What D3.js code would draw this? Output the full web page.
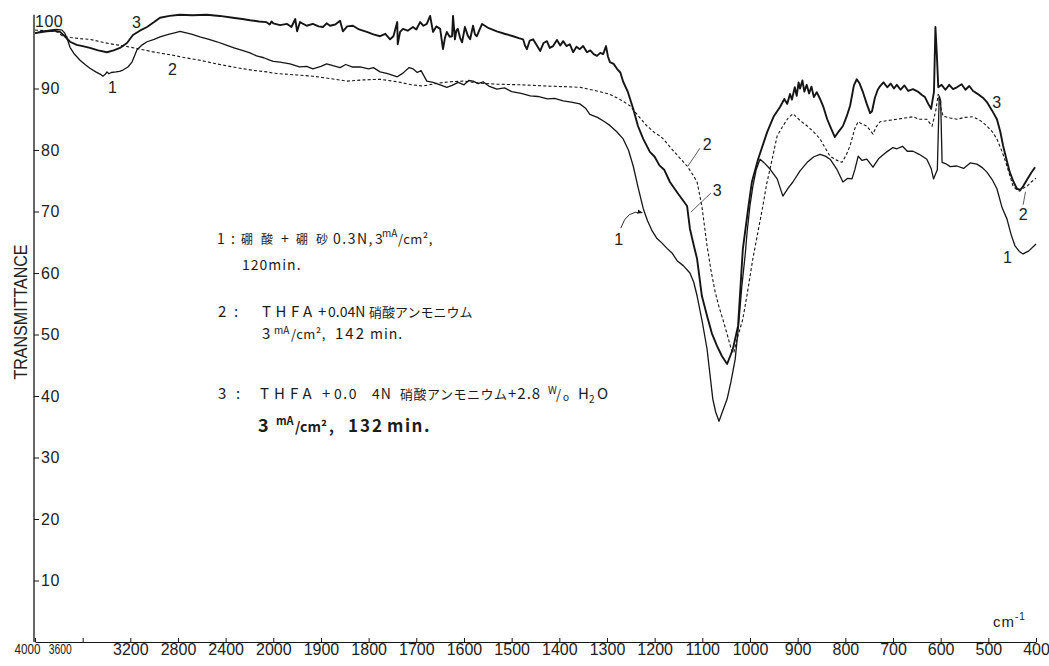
<!DOCTYPE html>
<html>
<head>
<meta charset="utf-8">
<script src="https://cdn.jsdelivr.net/npm/d3@7"></script>
<style>
  body { margin: 0; background: #fff; }
  svg { display: block; }
</style>
</head>
<body>
<script>
const width = 1049;
const height = 666;

// wavenumber (cm-1) / transmittance (%)
const spectrum1 = [
  [4000,99.0],[3940,99.3],[3874,99.5],[3820,99.6],[3773,99.5],[3750,99.0],[3732,98.2],[3706,96.7],[3670,95.6],[3622,94.6],
  [3580,93.9],[3539,93.3],[3490,92.7],[3450,92.3],[3430,92.0],[3410,92.3],[3396,92.7],[3380,92.4],[3360,92.6],[3320,92.7],
  [3290,92.8],[3262,93.0],[3220,93.5],[3186,94.3],[3165,95.3],[3144,96.3],[3100,97.1],[3060,97.6],[3000,98.0],[2951,98.4],
  [2880,98.8],[2820,99.1],[2783,99.3],[2740,99.1],[2680,98.8],[2616,98.4],[2540,98.0],[2473,97.6],[2400,97.1],[2330,96.6],
  [2260,96.2],[2196,95.8],[2140,95.3],[2080,95.0],[2030,94.6],[2000,94.4],[1986,94.3],[1965,94.0],[1945,93.5],[1930,93.6],
  [1917,93.2],[1900,93.6],[1888,94.0],[1875,93.7],[1860,93.4],[1848,93.9],[1835,93.5],[1818,93.5],[1800,93.2],[1790,93.4],
  [1776,92.7],[1760,92.4],[1740,91.9],[1728,92.5],[1715,93.4],[1707,93.2],[1698,92.6],[1690,92.9],[1678,91.2],[1665,91.0],
  [1650,90.6],[1636,90.2],[1625,90.5],[1612,91.0],[1600,90.6],[1590,91.3],[1581,91.2],[1570,90.8],[1560,91.1],[1548,90.4],
  [1531,89.9],[1515,90.1],[1500,89.5],[1480,89.2],[1461,88.8],[1445,88.7],[1425,88.3],[1410,88.4],[1392,88.0],[1375,87.8],
  [1357,87.5],[1345,86.8],[1336,85.8],[1320,85.3],[1305,84.6],[1294,84.0],[1280,83.0],[1266,81.8],[1255,80.0],[1245,77.4],
  [1235,74.0],[1224,70.5],[1215,68.5],[1205,66.8],[1195,65.6],[1185,64.9],[1174,64.0],[1163,63.2],[1153,62.0],[1140,61.2],
  [1126,60.0],[1118,58.5],[1111,56.3],[1100,52.0],[1090,47.6],[1078,39.5],[1072,37.4],[1065,35.9],[1058,37.4],[1048,39.5],
  [1040,42.3],[1031,46.0],[1024,51.5],[1017,57.9],[1010,63.0],[1006,66.7],[1000,71.0],[994,74.1],[987,76.8],[979,78.5],
  [970,77.9],[958,76.9],[943,75.3],[931,72.5],[920,73.8],[910,74.8],[895,76.6],[880,78.0],[866,78.9],[853,79.3],
  [842,79.0],[832,78.5],[818,76.9],[805,74.8],[795,75.4],[786,75.3],[780,76.8],[773,79.0],[765,78.3],[755,78.5],
  [742,77.2],[730,78.6],[713,79.7],[700,80.4],[692,80.2],[680,80.6],[670,79.8],[658,79.8],[645,79.3],[629,78.5],
  [620,77.0],[615,75.3],[607,76.8],[603,88.8],[600,88.0],[597,78.0],[590,77.8],[580,77.3],[566,77.4],[552,77.0],
  [538,77.9],[524,77.7],[512,77.1],[503,76.4],[492,75.2],[482,73.7],[471,70.6],[461,68.8],[452,66.2],[444,64.4],
  [435,63.5],[427,63.1],[415,63.6],[400,64.7]
];

const spectrum2 = [
  [4000,99.5],[3900,99.4],[3815,99.2],[3765,98.5],[3700,98.3],[3620,98.1],[3539,98.0],[3450,97.6],[3380,97.3],[3312,97.1],
  [3220,96.8],[3119,96.4],[3020,96.0],[2930,95.7],[2842,95.4],[2740,95.0],[2615,94.6],[2500,94.1],[2420,93.8],[2339,93.5],
  [2250,93.2],[2150,92.9],[2054,92.7],[2000,92.5],[1986,92.4],[1950,92.2],[1917,92.0],[1880,91.6],[1845,91.2],[1810,91.4],
  [1776,91.5],[1740,91.1],[1710,90.6],[1686,90.4],[1660,90.8],[1630,91.1],[1602,91.2],[1570,90.9],[1531,90.7],[1480,90.6],
  [1426,90.4],[1390,90.3],[1357,90.2],[1321,89.6],[1300,89.2],[1287,88.8],[1270,88.1],[1252,87.2],[1235,85.6],[1216,83.9],
  [1200,82.8],[1189,82.3],[1182,81.8],[1160,79.8],[1132,77.4],[1120,76.0],[1111,74.8],[1101,70.9],[1090,64.4],[1082,60.5],
  [1073,56.9],[1065,54.5],[1057,52.5],[1047,49.8],[1038,47.2],[1034,47.0],[1027,49.3],[1015,52.5],[1005,57.0],[994,62.3],
  [983,66.8],[973,70.9],[965,74.5],[958,76.9],[943,82.3],[931,83.9],[920,85.2],[910,85.9],[895,84.8],[880,83.9],
  [866,82.9],[853,81.8],[842,80.3],[832,79.0],[820,78.4],[807,78.0],[798,79.2],[790,80.7],[780,83.5],[773,84.6],
  [765,84.2],[755,83.9],[742,82.6],[735,83.8],[727,84.6],[710,84.8],[692,85.0],[675,85.2],[658,85.4],[645,85.0],
  [629,85.0],[618,83.9],[610,86.5],[605,89.1],[600,87.0],[595,85.5],[580,85.2],[566,85.0],[550,85.3],[532,85.4],
  [515,84.7],[503,83.9],[492,83.0],[482,81.8],[470,79.5],[461,77.4],[448,74.1],[440,73.5],[434,73.3],[427,73.8],
  [419,74.1],[410,74.8],[400,75.4]
];

const spectrum3 = [
  [4000,99.0],[3900,99.3],[3840,99.4],[3790,99.2],[3750,98.5],[3706,97.6],[3650,97.1],[3600,96.9],[3539,96.6],[3470,96.2],
  [3396,95.9],[3340,96.2],[3287,96.6],[3228,97.4],[3178,98.7],[3120,99.4],[3060,100.0],[3000,100.8],[2951,101.5],[2870,101.8],
  [2783,102.0],[2680,101.9],[2557,102.0],[2450,101.8],[2339,101.5],[2260,101.3],[2196,101.1],[2120,100.9],[2060,100.8],[2030,100.4],
  [2015,100.9],[2000,100.6],[1986,100.3],[1971,100.5],[1962,100.0],[1954,101.3],[1950,99.3],[1944,100.8],[1930,100.2],[1917,100.5],
  [1905,100.1],[1896,100.0],[1888,100.6],[1881,100.2],[1870,100.4],[1860,101.0],[1854,99.3],[1845,100.1],[1833,100.2],[1820,99.6],
  [1804,99.2],[1790,98.8],[1776,98.5],[1765,98.9],[1755,98.0],[1748,98.5],[1740,100.8],[1739,97.2],[1734,99.2],[1728,99.7],
  [1718,99.4],[1707,100.0],[1700,99.6],[1692,100.8],[1685,100.2],[1678,100.5],[1671,101.8],[1665,99.2],[1658,100.1],[1650,99.7],
  [1644,96.4],[1640,98.2],[1636,99.2],[1630,98.4],[1625,98.5],[1623,101.8],[1619,98.0],[1616,99.4],[1613,99.7],[1608,98.2],
  [1604,97.5],[1598,100.0],[1592,98.6],[1587,98.0],[1581,100.2],[1577,98.8],[1573,98.5],[1567,99.6],[1562,100.5],[1548,99.8],
  [1531,99.3],[1515,98.9],[1497,98.5],[1485,98.2],[1476,98.0],[1472,97.0],[1468,96.4],[1462,97.8],[1455,98.0],[1448,97.1],
  [1440,96.1],[1433,97.4],[1426,97.7],[1420,96.6],[1413,96.9],[1405,97.9],[1398,97.0],[1392,97.7],[1385,96.9],[1378,97.2],
  [1371,95.9],[1364,96.8],[1357,96.4],[1350,96.9],[1342,95.9],[1335,96.2],[1328,95.6],[1321,95.3],[1314,95.8],[1308,95.6],
  [1302,96.9],[1298,95.2],[1294,94.3],[1286,94.0],[1279,93.2],[1272,92.6],[1266,91.1],[1256,89.4],[1245,86.7],[1235,83.9],
  [1224,81.8],[1210,79.7],[1200,78.9],[1190,77.5],[1180,76.8],[1168,74.8],[1150,72.8],[1132,70.9],[1126,67.2],[1118,64.5],
  [1111,62.3],[1101,56.3],[1090,53.0],[1080,50.2],[1069,48.1],[1059,46.5],[1048,45.2],[1036,47.6],[1025,51.4],[1015,63.9],
  [1004,70.4],[996,74.8],[983,78.5],[964,82.9],[950,85.5],[937,87.0],[928,88.3],[922,87.5],[916,89.1],[912,88.2],
  [906,90.2],[902,88.8],[898,91.0],[895,90.0],[890,91.3],[886,89.5],[881,90.6],[876,89.2],[871,90.3],[866,88.6],
  [860,89.4],[853,88.3],[846,87.0],[838,85.0],[830,83.5],[822,82.1],[814,83.0],[805,83.9],[797,85.5],[790,87.2],
  [782,90.5],[776,91.5],[770,90.8],[763,89.4],[755,87.5],[748,86.0],[744,86.3],[738,88.5],[732,89.8],[727,90.4],
  [720,91.0],[712,90.2],[705,90.8],[698,90.0],[692,90.6],[684,89.8],[676,90.5],[668,89.6],[658,89.9],[648,89.5],
  [640,89.0],[633,88.6],[626,87.5],[620,86.7],[614,89.5],[611,100.0],[608,95.5],[605,90.2],[598,90.6],[590,89.8],
  [582,90.6],[574,89.9],[566,90.2],[556,90.7],[548,89.8],[540,90.4],[532,89.6],[520,89.0],[510,88.4],[503,87.8],
  [492,86.4],[482,85.0],[475,83.0],[469,80.7],[462,78.5],[455,76.4],[447,74.8],[440,73.7],[433,73.5],[427,74.1],
  [418,75.3],[410,76.3],[402,77.2]
];

const xTicks = [4000,3600,3200,2800,2400,2000,1900,1800,1700,1600,1500,1400,1300,1200,1100,1000,900,800,700,600,500,400];
const yTicks = [10,20,30,40,50,60,70,80,90,100];

const legendText = [
  ["1", ":", "硼", "酸", "+", "硼", "砂", "0.3N,", "3", "mA", "/cm²,"],
  ["120min."],
  ["2", ":", "THFA", "+", "0.04N", "硝酸アンモニウム"],
  ["3", "mA", "/cm²,", "142", "min."],
  ["3", ":", "THFA", "+", "0.0", "4N", "硝酸アンモニウム", "+2.8", "W", "/", "o", "H", "2", "O"],
  ["3", "mA", "/cm²", ",", "132", "min."]
];

const ink = "#151515";

// two segments: 4000-2000 and 2000-400 share the same tick spacing
const x = d3.scaleLinear()
  .domain([4000, 2000, 400])
  .range([35, 273.3, 1036]);

const y = d3.scaleLinear()
  .domain([0, 100])
  .range([642, 27]);

const svg = d3.select("body").append("svg")
  .attr("width", width)
  .attr("height", height)
  .attr("viewBox", [0, 0, width, height])
  .style("background", "#fff");

// x axis
const gx = svg.append("g")
  .attr("transform", `translate(0,${y(0)})`)
  .call(d3.axisBottom(x).tickValues(xTicks).tickSize(-4).tickSizeOuter(0).tickPadding(2).tickFormat(d3.format("d")));
gx.attr("font-family", "'Liberation Sans', Arial, sans-serif").attr("font-size", 16).attr("color", ink);
gx.select(".domain").attr("stroke-width", 1.2);
gx.selectAll(".tick text").attr("fill", "#222");
// the first two labels are squeezed together on the original
gx.selectAll(".tick text").filter(d => d === 4000)
  .attr("dx", -8).attr("font-size", 14)
  .attr("textLength", 26).attr("lengthAdjust", "spacingAndGlyphs");
gx.selectAll(".tick text").filter(d => d === 3600)
  .attr("dx", -23).attr("font-size", 14)
  .attr("textLength", 23).attr("lengthAdjust", "spacingAndGlyphs");

// y axis
const gy = svg.append("g")
  .attr("transform", `translate(34,0)`)
  .call(d3.axisRight(y).tickValues(yTicks).tickSize(5).tickPadding(2).tickSizeOuter(0));
gy.attr("font-family", "'Liberation Sans', Arial, sans-serif").attr("font-size", 16).attr("color", ink);
gy.select(".domain").remove();
gy.selectAll(".tick text").attr("fill", "#222").attr("letter-spacing", 0.5);
gy.selectAll(".tick").filter(d => d === 100).select("text").attr("x", 1).attr("dy", "-0.05em");
gy.selectAll(".tick").filter(d => d === 100).select("line").remove();
svg.append("line")
  .attr("x1", 34).attr("x2", 34)
  .attr("y1", y(0)).attr("y2", y(102))
  .attr("stroke", ink).attr("stroke-width", 1.3);

svg.append("text")
  .attr("transform", "translate(27,312) rotate(-90)")
  .attr("text-anchor", "middle")
  .attr("font-family", "'Liberation Sans', Arial, sans-serif")
  .attr("font-size", 18)
  .attr("textLength", 135)
  .attr("lengthAdjust", "spacingAndGlyphs")
  .attr("fill", "#222")
  .text("TRANSMITTANCE");

const unit = svg.append("text")
  .attr("x", 993).attr("y", 627)
  .attr("font-family", "'Liberation Sans', Arial, sans-serif")
  .attr("font-size", 15).attr("fill", "#222")
  .attr("letter-spacing", 1);
unit.append("tspan").text("cm");
unit.append("tspan").attr("dy", -7).attr("font-size", 10).text("-1");

// spectra
const line = d3.line()
  .x(d => x(d[0]))
  .y(d => y(d[1]));

svg.append("path")
  .datum(spectrum2)
  .attr("d", line)
  .attr("fill", "none")
  .attr("stroke", ink)
  .attr("stroke-width", 1.1)
  .attr("stroke-dasharray", "3,2.2");

svg.append("path")
  .datum(spectrum1)
  .attr("d", line)
  .attr("fill", "none")
  .attr("stroke", ink)
  .attr("stroke-width", 1.3)
  .attr("stroke-linejoin", "round");

svg.append("path")
  .datum(spectrum3)
  .attr("d", line)
  .attr("fill", "none")
  .attr("stroke", ink)
  .attr("stroke-width", 1.9)
  .attr("stroke-linejoin", "round");

// curve numbers
const curveLabels = [
  ["1", 3387, 89.3], ["3", 3186, 99.8], ["2", 2884, 92.2],
  ["2", 1099, 80.0], ["3", 1078, 72.5], ["1", 1285, 64.6],
  ["3", 492, 86.8], ["2", 436, 68.6], ["1", 469, 61.6]
];
svg.append("g")
  .attr("font-family", "'Liberation Sans', Arial, sans-serif")
  .attr("font-size", 16)
  .attr("fill", "#222")
  .selectAll("text")
  .data(curveLabels)
  .join("text")
  .attr("x", d => x(d[1]))
  .attr("y", d => y(d[2]))
  .text(d => d[0]);

const leaders = [
  [[1105, 80.3], [1130, 77.4]],
  [[1082, 73.0], [1124, 69.9]],
  [[427, 71.1], [422, 73.2]]
];
svg.append("g")
  .selectAll("line")
  .data(leaders)
  .join("line")
  .attr("x1", d => x(d[0][0])).attr("y1", d => y(d[0][1]))
  .attr("x2", d => x(d[1][0])).attr("y2", d => y(d[1][1]))
  .attr("stroke", "#333").attr("stroke-width", 0.8);

svg.append("defs").append("marker")
  .attr("id", "head")
  .attr("viewBox", "0 0 10 10")
  .attr("refX", 9).attr("refY", 5)
  .attr("markerWidth", 6).attr("markerHeight", 6)
  .attr("orient", "auto")
  .append("path")
  .attr("d", "M0,1L10,5L0,9Z")
  .attr("fill", ink);

const p = d3.path();
p.moveTo(x(1271), y(67.3));
p.quadraticCurveTo(x(1258), y(70.4), x(1226), y(69.8));
svg.append("path")
  .attr("d", p.toString())
  .attr("fill", "none")
  .attr("stroke", ink)
  .attr("stroke-width", 0.9)
  .attr("marker-end", "url(#head)");

// legend block
const cjk = "'Noto Sans CJK JP', 'Noto Sans', sans-serif";
const legend = svg.append("g")
  .attr("font-family", cjk)
  .attr("fill", "#1c1c1c");

function legendLine(words, baseline, layout, opts) {
  const t = legend.append("text").attr("y", baseline);
  if (opts && opts.bold) t.attr("font-weight", "bold");
  words.forEach((w, i) => {
    const l = layout[i];
    t.append("tspan")
      .attr("x", l[0])
      .attr("y", baseline + (l[2] || 0))
      .attr("font-size", l[1])
      .attr("letter-spacing", l[3] || 0)
      .text(w);
  });
}

legendLine(legendText[0], 244, [
  [217, 14], [231, 14], [241, 12], [261, 12], [281, 14], [296, 12], [316, 12],
  [333, 14, 0, 1.5], [375, 14], [382, 10, -7], [398, 13, 0, 0.5]
]);
legendLine(legendText[1], 270, [[242, 14, 0, 1]]);
legendLine(legendText[2], 317, [
  [218, 15], [234, 15], [262, 15, 0, 4.5], [318, 15], [328, 14], [369, 13]
]);
legendLine(legendText[3], 339, [
  [262, 15], [274, 10, -5], [291, 13, 0, 0.5], [335, 15, 0, 2], [370, 14, 0, 1]
]);
legendLine(legendText[4], 399, [
  [218, 15], [236, 15], [260, 15, 0, 5], [322, 15], [334, 14, 0, 1.5], [372, 14, 0, 1],
  [400, 13, 0, 0.5], [508, 15, 0, 1], [548, 10, -5], [556, 13], [563, 10, 2],
  [578, 15], [589, 10, 4], [597, 15]
]);
legendLine(legendText[5], 432, [
  [258, 18], [276, 11, -7], [295, 14], [329, 15], [348, 17, 0, 2], [387, 17, 0, 1.5]
], { bold: true });
</script>
</body>
</html>
